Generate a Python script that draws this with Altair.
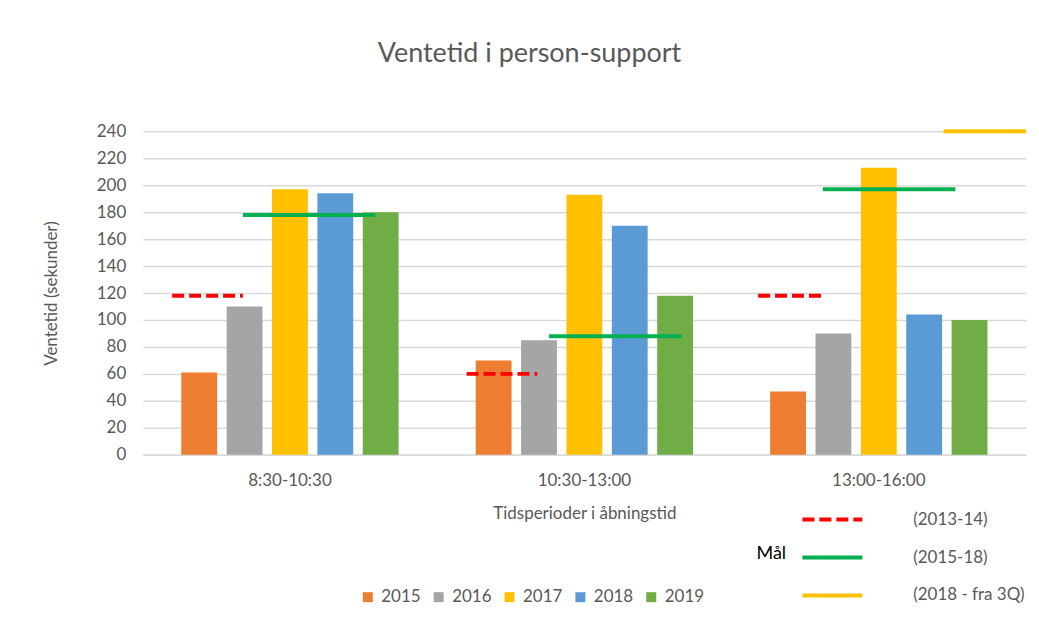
import altair as alt
import pandas as pd

# ---- data ----
periods = ["8:30-10:30", "10:30-13:00", "13:00-16:00"]
years = ["2015", "2016", "2017", "2018", "2019"]
v2015 = [61, 70, 47]
v2016 = [110, 85, 90]
v2017 = [197, 193, 213]
v2018 = [194, 170, 104]
v2019 = [180, 118, 100]
bar_colors = ["#ED7D31", "#A5A5A5", "#FFC000", "#5B9BD5", "#70AD47"]
y_ticks = [0, 20, 40, 60, 80, 100, 120, 140, 160, 180, 200, 220, 240]

# goal (Mål) lines: value and span measured in period units (0..3)
goal_names = ["(2013-14)", "(2015-18)", "(2018 - fra 3Q)"]
goal_series = ["(2013-14)", "(2013-14)", "(2013-14)",
               "(2015-18)", "(2015-18)", "(2015-18)",
               "(2018 - fra 3Q)"]
goal_values = [118, 60, 118, 178, 88, 197, 240]
goal_start = [0.10, 1.10, 2.09, 0.34, 1.38, 2.31, 2.72]
goal_end = [0.34, 1.34, 2.32, 0.79, 1.83, 2.76, 3.00]
goal_colors = ["#FF0000", "#00B050", "#FFC000"]
goal_dashes = [[12, 5], [1, 0], [1, 0]]

series_by_year = [v2015, v2016, v2017, v2018, v2019]
rows = []
for yr, vals in zip(years, series_by_year):
    for p, v in zip(periods, vals):
        rows.append({"period": p, "year": yr, "value": v})
bar_df = pd.DataFrame(rows)

goal_df = pd.DataFrame({
    "series": goal_series,
    "value": goal_values,
    "start": goal_start,
    "end": goal_end,
})

FONT = "Lato"
GRAY = "#595959"
GRID = "#d9d9d9"

y_axis = alt.Axis(values=y_ticks, title="Ventetid (sekunder)",
                  grid=True, gridColor=GRID, gridWidth=1.5,
                  domain=False, ticks=False, labelPadding=17,
                  labelOverlap=False,
                  titlePadding=36, labelFontSize=17, titleFontSize=17,
                  labelColor=GRAY, titleColor=GRAY,
                  titleFontWeight="normal")

bars = alt.Chart(bar_df).mark_bar().encode(
    x=alt.X("period:N", sort=periods,
            scale=alt.Scale(paddingInner=0, paddingOuter=0),
            axis=alt.Axis(title="Tidsperioder i åbningstid", labelAngle=0,
                          ticks=False, domainColor=GRID, domainWidth=1.5,
                          labelPadding=18, titlePadding=17,
                          labelFontSize=17, titleFontSize=17,
                          labelColor=GRAY, titleColor=GRAY,
                          titleFontWeight="normal")),
    xOffset=alt.XOffset("year:N", sort=years,
                        scale=alt.Scale(paddingInner=0.21, paddingOuter=0.85)),
    y=alt.Y("value:Q",
            scale=alt.Scale(domain=[0, 240], nice=False),
            axis=y_axis),
    color=alt.Color("year:N", sort=years,
                    scale=alt.Scale(domain=years, range=bar_colors),
                    legend=alt.Legend(title=None, orient="none",
                                      direction="horizontal",
                                      legendX=217, legendY=458,
                                      symbolType="square", symbolSize=100,
                                      symbolStrokeWidth=0, labelOffset=5,
                                      columnPadding=9, padding=0,
                                      labelLimit=200,
                                      labelFontSize=17, labelColor=GRAY)),
)

goal_legend = alt.Legend(title="Mål", titleOrient="left",
                         titleAnchor="middle", titleBaseline="middle",
                         titleColor="black", titleFontSize=18,
                         titleFontWeight="normal", titlePadding=29,
                         orient="none", legendX=615, legendY=372,
                         direction="vertical", symbolType="M-2,0H2",
                         symbolSize=900, symbolStrokeWidth=4,
                         labelOffset=64, rowPadding=13, padding=0,
                         labelFontSize=17, labelColor=GRAY, labelLimit=200)

rules = alt.Chart(goal_df).mark_rule(strokeWidth=4).encode(
    x=alt.X("start:Q", scale=alt.Scale(domain=[0, 3], nice=False, zero=False),
            axis=None),
    x2="end:Q",
    y=alt.Y("value:Q", axis=y_axis),
    color=alt.Color("series:N", sort=goal_names,
                    scale=alt.Scale(domain=goal_names, range=goal_colors),
                    legend=goal_legend),
    strokeDash=alt.StrokeDash("series:N", sort=goal_names,
                              scale=alt.Scale(domain=goal_names,
                                              range=goal_dashes),
                              legend=goal_legend),
)

chart = alt.layer(bars, rules).resolve_scale(
    x="independent", color="independent", strokeDash="independent"
).properties(
    width=885,
    height=324,
    title=alt.Title("Ventetid i person-support", fontSize=27,
                    fontWeight="normal", color=GRAY, font=FONT,
                    anchor="middle", frame="group", dx=-55,
                    baseline="alphabetic", offset=33),
    autosize=alt.AutoSizeParams(type="none"),
    padding={"left": 135, "top": 123, "right": 5, "bottom": 160},
).configure(font=FONT).configure_view(stroke=None)

chart.save("out.html", embed_options={"renderer": "svg", "actions": False})
